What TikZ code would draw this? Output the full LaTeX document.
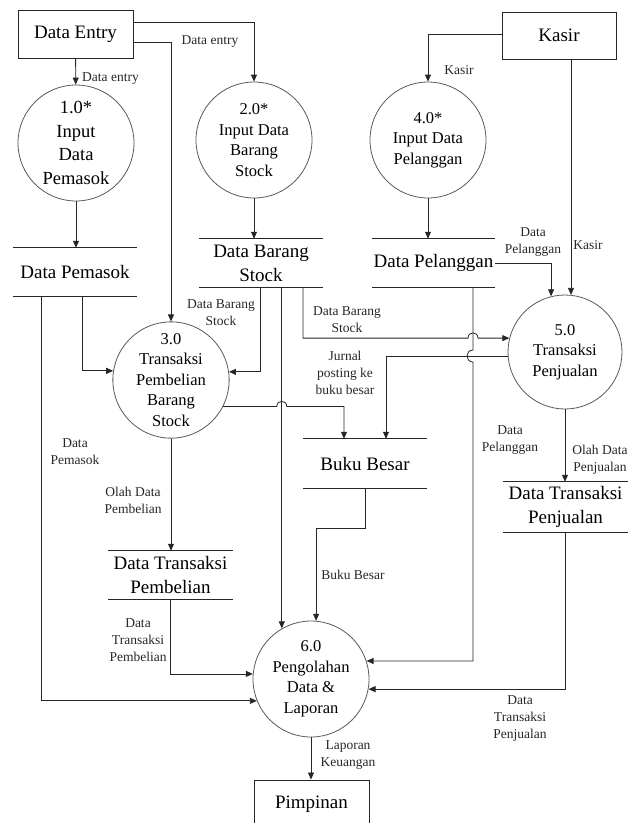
\documentclass[tikz,border=0pt]{standalone}
\usepackage{fontspec}
\setmainfont{Liberation Serif}
\usetikzlibrary{positioning,calc,arrows.meta}

\tikzset{
  entity/.style = {rectangle, draw=black!85, line width=0.9pt, minimum width=115pt, minimum height=48pt, font=\fontsize{19}{23}\selectfont},
  process/.style = {circle, draw=black!65, line width=0.8pt, minimum size=116pt, inner sep=0pt, align=center, font=\fontsize{16.5}{20.5}\selectfont},
  store/.style = {minimum width=124pt, minimum height=48pt, inner sep=0pt, align=center, font=\fontsize{19}{24}\selectfont},
  flow/.style = {draw=black!85, line width=0.8pt, -{Triangle[length=7pt,width=6pt]}},
  lbl/.style = {inner sep=0pt, align=center, font=\fontsize{13.5}{17}\selectfont, text=black!85}
}

\begin{document}
\begin{tikzpicture}[x=1pt,y=-1pt]
\useasboundingbox (0,0) rectangle (632,823);
\clip (0,0) rectangle (632,823);

% external entities
\node (entry) [entity] at (75.5,34.5) {Data Entry};
\node (kasir) [entity, minimum width=114pt, minimum height=47pt] at (559,35.5) {Kasir};
\node (pimpinan) [entity] at (311.5,804) {Pimpinan};

% processes
\node (p1) [process, font=\fontsize{18.5}{23.5}\selectfont] at (76,143) {1.0*\\Input\\Data\\Pemasok};
\node (p2) [process] at (254,140) {2.0*\\Input Data\\Barang\\Stock};
\node (p4) [process] at (428,140) {4.0*\\Input Data\\Pelanggan};
\node (p3) [process] at (171,380) {3.0\\Transaksi\\Pembelian\\Barang\\Stock};
\node (p5) [process, minimum size=114pt] at (565,352) {5.0\\Transaksi\\Penjualan};
\node (p6) [process] at (311,679) {6.0\\Pengolahan\\Data \&\\Laporan};

% data stores
\node (pemasok) [store] at (75,272) {Data Pemasok};
\node (barang) [store] at (261,263) {Data Barang\\Stock};
\node (pelanggan) [store, minimum width=123pt] at (433.5,263) {Data Pelanggan};
\node (buku) [store, minimum height=49pt] at (365,463.5) {Buku Besar};
\node (dtbeli) [store, minimum width=125pt] at (170.5,575) {Data Transaksi\\Pembelian};
\node (dtjual) [store, minimum width=125pt, minimum height=50pt] at (565.5,507) {Data Transaksi\\Penjualan};
\foreach \s in {pemasok,barang,pelanggan,buku,dtbeli,dtjual}
  \draw[black!85, line width=0.9pt] (\s.north west) -- (\s.north east) (\s.south west) -- (\s.south east);

% flows
\draw[flow] (entry) -- (p1);
\draw[flow] ([yshift=12.5pt]entry.east) -| (p2);
\draw[flow] ([yshift=-7.5pt]entry.east) -| (p3);
\draw[flow] ([yshift=1.5pt]kasir.west) -| (p4);
\draw[flow] (kasir.south -| p5.84) -- (p5.84);
\draw[flow] (pelanggan.east) -| (p5.104);
\draw[flow] (p1) -- (p1 |- pemasok.north);
\draw[flow] (p2) -- (p2 |- barang.north);
\draw[flow] (p4) -- (p4 |- pelanggan.north);
\draw[flow] ([xshift=7pt]pemasok.south) |- (p3.171);
\draw[flow] ([xshift=-1pt]barang.south) |- (p3.8);
\draw[flow] (barang.south -| p6.120) -- (p6.120);
\coordinate (vx) at ([xshift=39.5pt]pelanggan.south);
\draw[flow] ([xshift=42pt]barang.south) |- ($(vx |- p5.166)+(-5,0)$) .. controls +(0,-7) and +(0,-7) .. ($(vx |- p5.166)+(5,0)$) -- (p5.166);
\draw[flow] (p5.184) -| ([xshift=21pt]buku.north);
\draw[flow] (p3.-27) -- ($(p6.120 |- p3.-27)+(-5,0)$) .. controls +(0,-7) and +(0,-7) .. ($(p6.120 |- p3.-27)+(5,0)$) -| ([xshift=-21pt]buku.north);
\draw[flow] (vx) -- ($(vx |- p5.184)+(0,-6)$) .. controls +(-8,0) and +(-8,0) .. ($(vx |- p5.184)+(0,6)$) |- (p6.18);
\draw[flow] (buku.south) -- ++(0,40) -| (p6.85);
\draw[flow] (p5) -- (p5 |- dtjual.north);
\draw[flow] (dtjual.south) |- (p6.-10);
\draw[flow] (p3) -- (p3 |- dtbeli.north);
\draw[flow] (dtbeli.south) |- (p6.175);
\draw[flow] ([xshift=-34pt]pemasok.south) |- (p6.202);
\draw[flow] (p6) -- (p6 |- pimpinan.north);

% flow labels
\node (l1) [lbl, anchor=west] at (82,79) {Data entry};
\node (l2) [lbl] at (210,42) {Data entry};
\node (l3) [lbl] at (459,70) {Kasir};
\node (l4) [lbl] at (588,245) {Kasir};
\node (l5) [lbl] at (533,242) {Data\\Pelanggan};
\node (l6) [lbl] at (221,313) {Data Barang\\Stock};
\node (l7) [lbl] at (347,320) {Data Barang\\Stock};
\node (l8) [lbl] at (345,373) {Jurnal\\posting ke\\buku besar};
\node (l9) [lbl] at (75,452) {Data\\Pemasok};
\node (l10) [lbl] at (133,500) {Olah Data\\Pembelian};
\node (l11) [lbl] at (510,440) {Data\\Pelanggan};
\node (l12) [lbl] at (600,460) {Olah Data\\Penjualan};
\node (l13) [lbl] at (353,575) {Buku Besar};
\node (l14) [lbl] at (138,640) {Data\\Transaksi\\Pembelian};
\node (l15) [lbl] at (520,719) {Data\\Transaksi\\Penjualan};
\node (l16) [lbl] at (348,755) {Laporan\\Keuangan};
\end{tikzpicture}
\end{document}
